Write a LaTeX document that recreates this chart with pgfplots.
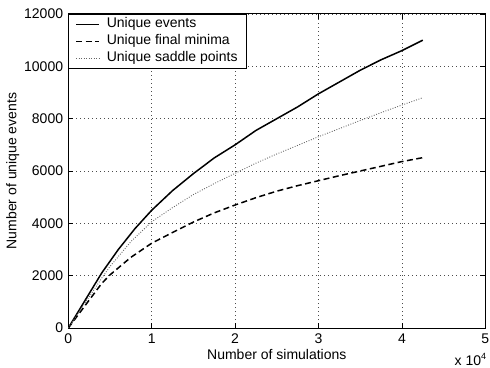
\documentclass[border=0pt]{standalone}
\usepackage{pgfplots}
\pgfplotsset{compat=1.18}
\usepackage{fontspec}
\setmainfont{Liberation Sans}
\begin{document}
\begin{tikzpicture}[x=1pt,y=1pt]
\path[use as bounding box] (-68.3,-39) rectangle (421.7,328);
\begin{axis}[
  name=ax,
  at={(0,0)}, anchor=south west,
  scale only axis, width=417pt, height=314pt,
  xmin=0, xmax=5, ymin=0, ymax=12000,
  xtick={0,1,2,3,4,5}, ytick={0,2000,4000,6000,8000,10000,12000},
  scaled y ticks=false,
  yticklabel style={/pgf/number format/fixed,/pgf/number format/1000 sep={}},
  /pgf/number format/assume math mode=true,
  tick align=inside, major tick length=5pt,
  tick style={black, line width=0.6pt},
  axis line style={line width=1pt},
  grid=major,
  major grid style={black!70, line width=0.5pt, dash pattern=on 1pt off 3pt},
  font=\fontsize{14}{16}\selectfont,
  ticklabel style={font=\fontsize{14}{16}\selectfont},
  xticklabel style={inner sep=0pt, anchor=north, yshift=-6pt},
  yticklabel style={inner sep=0pt, anchor=east, xshift=-5pt},
  xlabel={Number of simulations},
  ylabel={Number of unique events},
  xlabel style={at={(axis description cs:0.5,0)}, anchor=north, inner sep=0pt, yshift=-21pt},
  ylabel style={at={(axis description cs:-0.117,0.5)}, anchor=south, inner sep=0pt},
  legend style={at={(0,1)}, anchor=north west, draw=black, line width=1pt,
    font=\fontsize{14}{16}\selectfont, inner xsep=6.5pt, inner ysep=1.5pt,
    nodes={inner sep=2pt, text height=10pt, text depth=3pt}, row sep=0pt,
    column sep=5pt, legend cell align=left},
  legend image code/.code={\draw[#1] (0pt,0pt) -- (23pt,0pt);},
]
\addplot[black, line width=1.5pt] coordinates {
(0,0) (0.2,1050) (0.4,2100) (0.6,3000) (0.8,3800) (1.0,4500) (1.25,5250)
(1.5,5900) (1.75,6500) (2.0,7000) (2.25,7550) (2.5,8000) (2.75,8450)
(3.0,8950) (3.25,9400) (3.5,9850) (3.75,10250) (4.0,10600) (4.25,11000)};
\addlegendentry{Unique events}
\addplot[black, line width=1.5pt, dash pattern=on 6pt off 3.5pt] coordinates {
(0,0) (0.2,850) (0.4,1700) (0.5,2030) (0.75,2700) (1.0,3240) (1.25,3650)
(1.5,4050) (1.75,4400) (2.0,4700) (2.25,4980) (2.5,5230) (2.75,5440)
(3.0,5630) (3.25,5820) (3.5,6000) (3.75,6180) (4.0,6360) (4.25,6510)};
\addlegendentry{Unique final minima}
\addplot[black!60, line width=0.9pt, dash pattern=on 0.9pt off 1.6pt] coordinates {
(0,0) (0.2,950) (0.4,1900) (0.5,2350) (0.75,3300) (1.0,4060) (1.25,4600)
(1.5,5100) (1.75,5520) (2.0,5910) (2.25,6300) (2.5,6650) (2.75,6980)
(3.0,7310) (3.25,7620) (3.5,7930) (3.75,8230) (4.0,8520) (4.25,8800)};
\addlegendentry{Unique saddle points}
\end{axis}
\node[anchor=base east, font=\fontsize{14}{16}\selectfont, inner sep=0pt]
  at (418,-37) {x 10\raisebox{6pt}{\fontsize{9}{9}\selectfont 4}};
\end{tikzpicture}
\end{document}
